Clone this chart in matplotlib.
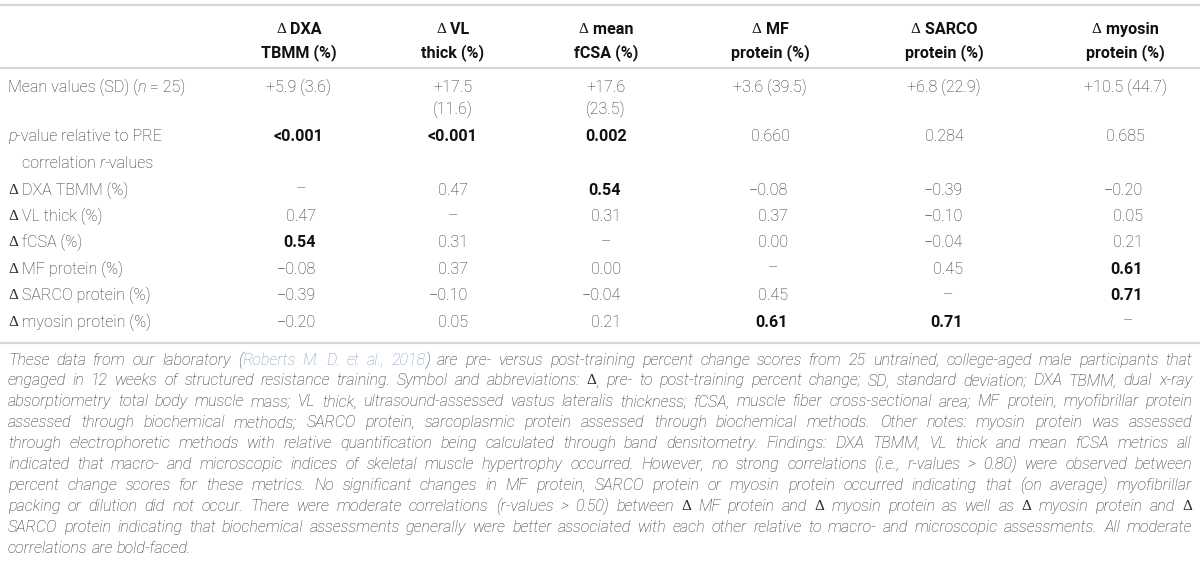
import matplotlib
matplotlib.use('Agg')
import matplotlib.pyplot as plt

plt.rcParams['font.family'] = ['Roboto', 'DejaVu Sans']

# table content
col_heads = ['Δ DXA\nTBMM (%)', 'Δ VL\nthick (%)', 'Δ mean\nfCSA (%)',
             'Δ MF\nprotein (%)', 'Δ SARCO\nprotein (%)', 'Δ myosin\nprotein (%)']
mean_values = ['+5.9 (3.6)', '+17.5\n(11.6)', '+17.6\n(23.5)',
               '+3.6 (39.5)', '+6.8 (22.9)', '+10.5 (44.7)']
p_values = ['<0.001', '<0.001', '0.002', '0.660', '0.284', '0.685']
p_bold = [True, True, True, False, False, False]
row_labels = ['Δ DXA TBMM (%)', 'Δ VL thick (%)', 'Δ fCSA (%)',
              'Δ MF protein (%)', 'Δ SARCO protein (%)', 'Δ myosin protein (%)']
r_values = [
    [None, 0.47, 0.54, -0.08, -0.39, -0.20],
    [0.47, None, 0.31, 0.37, -0.10, 0.05],
    [0.54, 0.31, None, 0.00, -0.04, 0.21],
    [-0.08, 0.37, 0.00, None, 0.45, 0.61],
    [-0.39, -0.10, -0.04, 0.45, None, 0.71],
    [-0.20, 0.05, 0.21, 0.61, 0.71, None],
]
# footnote lines as printed ({...} = citation link)
note_lines = [
    "These data from our laboratory ({Roberts M. D. et al., 2018}) are pre- versus post-training percent change scores from 25 untrained, college-aged male participants that",
    "engaged in 12 weeks of structured resistance training. Symbol and abbreviations: Δ, pre- to post-training percent change; SD, standard deviation; DXA TBMM, dual x-ray",
    "absorptiometry total body muscle mass; VL thick, ultrasound-assessed vastus lateralis thickness; fCSA, muscle fiber cross-sectional area; MF protein, myofibrillar protein",
    "assessed through biochemical methods; SARCO protein, sarcoplasmic protein assessed through biochemical methods. Other notes: myosin protein was assessed",
    "through electrophoretic methods with relative quantification being calculated through band densitometry. Findings: DXA TBMM, VL thick and mean fCSA metrics all",
    "indicated that macro- and microscopic indices of skeletal muscle hypertrophy occurred. However, no strong correlations (i.e., r-values > 0.80) were observed between",
    "percent change scores for these metrics. No significant changes in MF protein, SARCO protein or myosin protein occurred indicating that (on average) myofibrillar",
    "packing or dilution did not occur. There were moderate correlations (r-values > 0.50) between Δ MF protein and Δ myosin protein as well as Δ myosin protein and Δ",
    "SARCO protein indicating that biochemical assessments generally were better associated with each other relative to macro- and microscopic assessments. All moderate",
    "correlations are bold-faced.",
]

# layout
W, H = 1200, 561
FS = 11.6
TXT = '#2e2e2e'
BLD = '#111111'
LINK = '#7d9bc4'
RULE = '#d6d6d6'
col_x = [299, 453, 606, 770, 944, 1125]
num_right = [316, 468, 621, 788, 963, 1143]
x_left = 8

fig = plt.figure(figsize=(W / 100, H / 100), dpi=100)
ax = fig.add_axes([0, 0, 1, 1])
ax.set_xlim(0, W)
ax.set_ylim(H, 0)
ax.axis('off')
renderer = fig.canvas.get_renderer()

light = dict(color=TXT, fontweight='light')
light_it = dict(color=TXT, fontweight='light', fontstyle='italic')
bold = dict(color=BLD, fontweight='bold')
delta = dict(color=TXT, family=['Liberation Serif'], fontsize=FS * 0.95)
delta_b = dict(color=BLD, family=['Liberation Serif'], fontsize=FS * 0.95)


def width(s, **kw):
    kw = dict(kw)
    fs = kw.pop('fontsize', FS)
    t1 = ax.text(0, 0, s + '|', fontsize=fs, **kw)
    t2 = ax.text(0, 0, '|', fontsize=fs, **kw)
    w = t1.get_window_extent(renderer).width - t2.get_window_extent(renderer).width
    t1.remove()
    t2.remove()
    return w


def runs(x, y, parts, ha='left'):
    total = sum(width(s, **st) for s, st in parts)
    if ha == 'center':
        x -= total / 2
    for s, st in parts:
        st = dict(st)
        fs = st.pop('fontsize', FS)
        ax.text(x, y, s, fontsize=fs, va='center', ha='left', **st)
        x += width(s, fontsize=fs, **st)


def with_delta(s, st, dst):
    # split a label so the Δ sign is set in a serif face
    if s.startswith('Δ'):
        return [('Δ', dst), (s[1:], st)]
    return [(s, st)]


# rules
for yy in (5, 68, 343):
    ax.plot([0, W], [yy, yy], color=RULE, lw=1.6, solid_capstyle='butt')

# header
for cx, head in zip(col_x, col_heads):
    for i, part in enumerate(head.split('\n')):
        runs(cx, 29 + i * 24, with_delta(part, bold, delta_b), ha='center')

# mean values row
runs(x_left, 87, [('Mean values (SD) (', light), ('n', light_it), (' = 25)', light)])
for cx, val in zip(col_x, mean_values):
    for i, part in enumerate(val.split('\n')):
        ax.text(cx, 87 + i * 22, part, fontsize=FS, ha='center', va='center', **light)

# p values row
runs(x_left, 136, [('p', light_it), ('-value relative to PRE', light)])
for cx, val, b in zip(col_x, p_values, p_bold):
    ax.text(cx, 136, val, fontsize=FS, ha='center', va='center', **(bold if b else light))

runs(x_left + 14, 163, [('correlation ', light), ('r', light_it), ('-values', light)])

# correlation matrix
row_y0, row_dy = 190, 26.4
for i, lab in enumerate(row_labels):
    y = row_y0 + i * row_dy
    runs(x_left, y, with_delta(lab, light, delta))
    for j, r in enumerate(r_values[i]):
        if r is None:
            ax.text(num_right[j] - 15, y, '\u2013', fontsize=FS, ha='center', va='center', **light)
            continue
        s = f'{r:.2f}'.replace('-', '\u2212')
        st = bold if r > 0.5 else light
        ax.text(num_right[j], y, s, fontsize=FS, ha='right', va='center', **st)

# footnote, justified
x0, x1 = 8, 1192
y0, dy = 360, 20.9
sp = width(' ', **light_it)
link_st = dict(light_it, color=LINK)
for k, line in enumerate(note_lines):
    words = []
    link = False
    for w in line.split(' '):
        segs = []
        cur = ''
        for ch in w:
            if ch in '{}':
                if cur:
                    segs.append((cur, link_st if link else light_it))
                cur = ''
                link = ch == '{'
            elif ch == 'Δ':
                if cur:
                    segs.append((cur, link_st if link else light_it))
                cur = ''
                segs.append(('Δ', delta))
            else:
                cur += ch
        if cur:
            segs.append((cur, link_st if link else light_it))
        words.append(segs)
    wl = [sum(width(s, **st) for s, st in segs) for segs in words]
    if k == len(note_lines) - 1:
        gap = sp
    else:
        gap = (x1 - x0 - sum(wl)) / (len(words) - 1)
    x = x0
    y = y0 + k * dy
    for segs, ww in zip(words, wl):
        runs(x, y, segs)
        x += ww + gap

fig.savefig('out.png', dpi=100)
